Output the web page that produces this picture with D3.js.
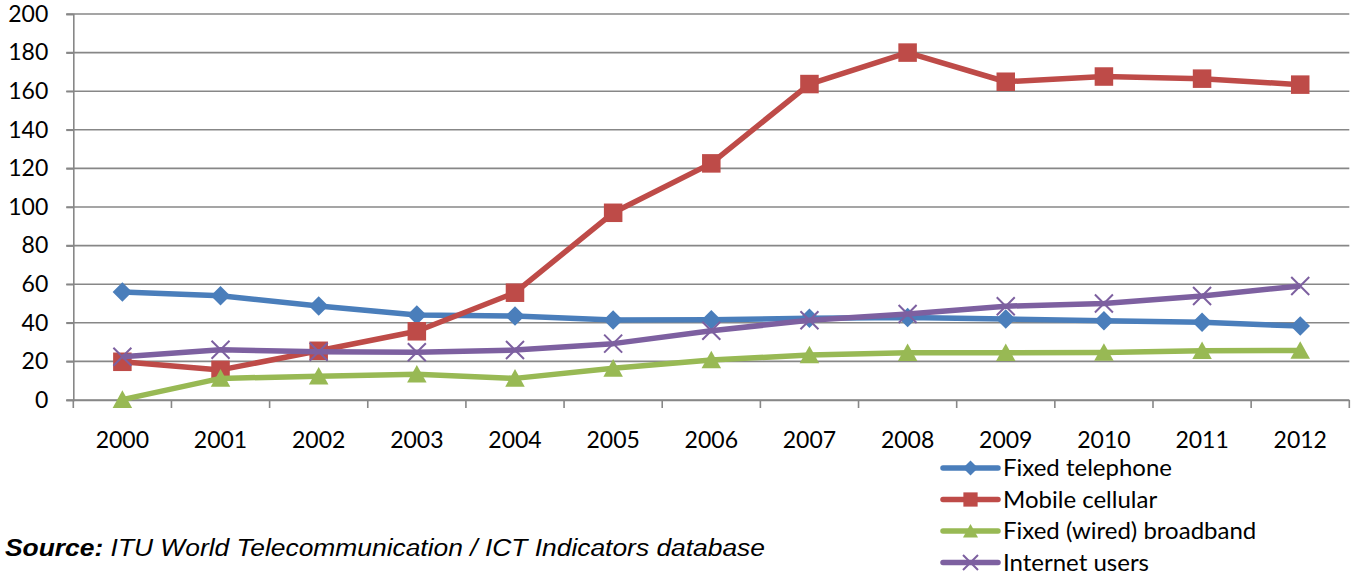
<!DOCTYPE html>
<html><head><meta charset="utf-8">
<script src="https://cdn.jsdelivr.net/npm/d3@7"></script>
<style>body{margin:0;background:#fff}</style>
</head><body>
<svg id="c" width="1357" height="575"></svg>
<script>
const years = ["2000","2001","2002","2003","2004","2005","2006","2007","2008","2009","2010","2011","2012"];
const fixedTelephone = [56, 54, 48.7, 44, 43.5, 41.4, 41.6, 42.3, 42.8, 42, 41, 40.3, 38.3];
const mobileCellular = [19.8, 15.6, 25.5, 35.6, 55.6, 97, 122.6, 163.7, 180, 164.9, 167.6, 166.5, 163.4];
const fixedBroadband = [0.2, 11.2, 12.3, 13.3, 11.2, 16.4, 20.7, 23.3, 24.5, 24.5, 24.6, 25.5, 25.7];
const internetUsers = [22.4, 26, 25, 24.7, 25.9, 29.2, 35.9, 41.3, 44.6, 48.6, 50, 53.9, 59.1];
const seriesNames = ["Fixed telephone","Mobile cellular","Fixed (wired) broadband","Internet users"];
const yTicks = [0,20,40,60,80,100,120,140,160,180,200];
const sourceBold = "Source:";
const sourceText = " ITU World Telecommunication / ICT Indicators database";

const series = [
  {name: seriesNames[0], values: fixedTelephone, color: "#4A7EBB", marker: "diamond"},
  {name: seriesNames[1], values: mobileCellular, color: "#BE4B48", marker: "square"},
  {name: seriesNames[2], values: fixedBroadband, color: "#98B954", marker: "triangle"},
  {name: seriesNames[3], values: internetUsers, color: "#7D60A0", marker: "cross"}
];

const svg = d3.select("#c");
const pL = 73.3, pR = 1349.3, pT = 14, pB = 400;
const x = d3.scaleBand().domain(years).range([pL, pR]).padding(0);
const y = d3.scaleLinear().domain([0, 200]).range([pB, pT]);
const font = "Lato, 'Open Sans', sans-serif";
const grid = "#878787";

// gridlines
svg.append("g").selectAll("line").data(yTicks).join("line")
  .attr("x1", pL - 7).attr("x2", pR)
  .attr("y1", d => y(d)).attr("y2", d => y(d))
  .attr("stroke", grid).attr("stroke-width", 1.6);

// y axis
const yAxis = svg.append("g").attr("transform", `translate(${pL},0)`)
  .call(d3.axisLeft(y).tickValues(yTicks).tickSize(7).tickPadding(18));
yAxis.select(".domain").attr("stroke", grid).attr("stroke-width", 1.6);
yAxis.selectAll(".tick line").attr("stroke", grid).attr("stroke-width", 1.6);
yAxis.selectAll("text").attr("font-family", font).attr("font-size", 23).attr("fill", "#000");

// x axis
const xAxis = svg.append("g").attr("transform", `translate(0,${pB})`)
  .call(d3.axisBottom(x).tickSize(0).tickPadding(32));
xAxis.select(".domain").attr("stroke", grid).attr("stroke-width", 1.6).attr("d", `M${pL},0.5H${pR}`);
xAxis.selectAll("text").attr("font-family", font).attr("font-size", 23).attr("fill", "#000");
const bounds = years.map(d => x(d)).concat([x(years[years.length-1]) + x.bandwidth()]);
svg.append("g").selectAll("line").data(bounds).join("line")
  .attr("x1", d => d).attr("x2", d => d).attr("y1", pB).attr("y2", pB + 8)
  .attr("stroke", grid).attr("stroke-width", 1.6);

function markerPath(type, s) {
  const h = s / 2;
  if (type === "diamond") return `M0,${-h}L${h},0L0,${h}L${-h},0Z`;
  if (type === "square") return `M${-h*0.95},${-h*0.95}H${h*0.95}V${h*0.95}H${-h*0.95}Z`;
  if (type === "triangle") return `M0,${-h*0.95}L${h},${h*0.85}L${-h},${h*0.85}Z`;
  return `M${-h},${-h}L${h},${h}M${h},${-h}L${-h},${h}`;
}

const line = d3.line().x((d, i) => x(years[i]) + x.bandwidth()/2).y(d => y(d));

series.forEach(s => {
  const g = svg.append("g");
  g.append("path").attr("d", line(s.values)).attr("fill", "none")
    .attr("stroke", s.color).attr("stroke-width", 5.5).attr("stroke-linejoin", "round");
  g.selectAll("path.m").data(s.values).join("path").attr("class", "m")
    .attr("transform", (d, i) => `translate(${x(years[i]) + x.bandwidth()/2},${y(d)})`)
    .attr("d", markerPath(s.marker, s.marker === "cross" ? 18 : 19.5))
    .attr("fill", s.marker === "cross" ? "none" : s.color)
    .attr("stroke", s.color).attr("stroke-width", s.marker === "cross" ? 2 : 0);
});

// legend
const legend = svg.append("g");
series.forEach((s, i) => {
  const ly = 468 + i * 31.5;
  legend.append("line").attr("x1", 943).attr("x2", 998).attr("y1", ly).attr("y2", ly)
    .attr("stroke", s.color).attr("stroke-width", 5.5).attr("stroke-linecap", "round");
  legend.append("path").attr("transform", `translate(970.5,${ly})`)
    .attr("d", markerPath(s.marker, 15))
    .attr("fill", s.marker === "cross" ? "none" : s.color)
    .attr("stroke", s.color).attr("stroke-width", s.marker === "cross" ? 2 : 0);
  legend.append("text").attr("x", 1003).attr("y", ly).attr("dy", "0.35em")
    .attr("font-family", font).attr("font-size", 24).attr("fill", "#000").text(s.name);
});

// source
const src = svg.append("text").attr("x", 5).attr("y", 556)
  .attr("font-family", "'Liberation Sans', Arial, sans-serif").attr("font-size", 23)
  .attr("font-style", "italic").attr("fill", "#000")
  .attr("textLength", 760).attr("lengthAdjust", "spacingAndGlyphs");
src.append("tspan").attr("font-weight", "bold").text(sourceBold);
src.append("tspan").text(sourceText);
</script>
</body></html>
